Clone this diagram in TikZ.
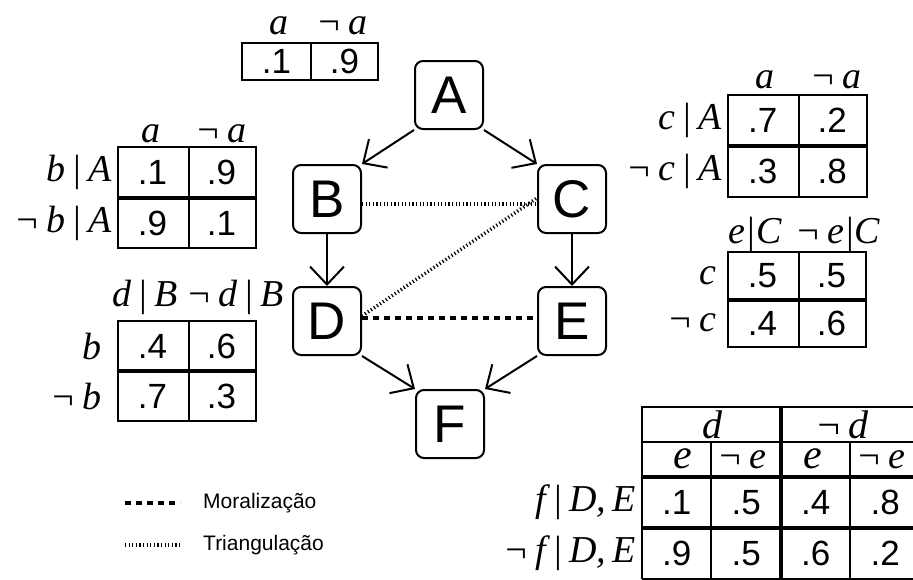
\documentclass[tikz,border=0pt]{standalone}
\usepackage{fontspec}
\setmainfont{Liberation Sans}
\newfontfamily\timesfont{Liberation Serif}
\usetikzlibrary{arrows.meta}

\begin{document}
\begin{tikzpicture}[x=1pt,y=-1pt,
	rv/.style={draw, line width=2pt, rounded corners=8pt, minimum size=68pt, inner sep=0pt, font=\fontsize{53}{60}\selectfont},
	dep/.style={line width=2pt, -{Straight Barb[length=18pt,width=34pt]}},
	moral/.style={line width=4pt, dash pattern=on 6pt off 5pt},
	triang/.style={line width=3.5pt, dash pattern=on 1.2pt off 2.4pt},
	tab/.style={line width=2pt},
	tabthick/.style={line width=4pt},
	num/.style={font=\fontsize{35}{40}\selectfont, inner sep=0pt},
	hdr/.style={font=\fontsize{38}{44}\selectfont\timesfont\itshape, inner sep=0pt, anchor=base},
	rowlbl/.style={font=\fontsize{38}{44}\selectfont\timesfont\itshape, inner sep=0pt, anchor=east},
	legtxt/.style={font=\fontsize{21}{26}\selectfont, anchor=west, inner sep=0pt}]
	\useasboundingbox (0,0) rectangle (913,579);

	% network
	\node[rv] (A) at (449,95) {A};
	\node[rv] (B) at (327,199) {B};
	\node[rv] (C) at (572,199) {C};
	\node[rv] (D) at (327,321) {D};
	\node[rv] (E) at (572,321) {E};
	\node[rv] (F) at (450,424) {F};

	\draw[dep] (A.south west) -- (B.north east);
	\draw[dep] (A.south east) -- (C.north west);
	\draw[dep] (B) -- (D);
	\draw[dep] (C) -- (E);
	\draw[dep] (D.south east) -- (F.north west);
	\draw[dep] (E.south west) -- (F.north east);

	\draw[triang] ([yshift=-5pt]B.east) -- ([yshift=-5pt]C.west);
	\draw[triang] ([yshift=5pt]D.east) -- ([yshift=1pt]C.west);
	\draw[moral] ([yshift=3pt]D.east) -- ([yshift=3pt]E.west);

	% P(A)
	\draw[tab] (242,43) rectangle (378,80);
	\draw[tab] (311,43) -- (311,80);
	\node[num] (pa1) at (276.5,61.5) {.1};
	\node[num] (pa2) at (344.5,61.5) {.9};
	\node[hdr] (ha1) at (279,34) {a};
	\node[hdr] (ha2) at (342,34) {¬\,a};

	% P(B|A)
	\draw[tab] (118,147) rectangle (256,248);
	\draw[tab] (189,147) -- (189,248);
	\draw[tabthick] (118,198) -- (256,198);
	\foreach \v [count=\i] in {.1,.9} \node[num] (pb1\i) at ({118+69*(\i-0.5)},172.5) {\v};
	\foreach \v [count=\i] in {.9,.1} \node[num] (pb2\i) at ({118+69*(\i-0.5)},223) {\v};
	\node[hdr] (hb1) at (151,142) {a};
	\node[hdr] (hb2) at (221,142) {¬\,a};
	\node[rowlbl] (lb1) at (112,172.5) {b\,|\,A};
	\node[rowlbl] (lb2) at (112,223) {¬\,b\,|\,A};

	% P(C|A)
	\draw[tab] (728,95) rectangle (867,197);
	\draw[tab] (799,95) -- (799,197);
	\draw[tabthick] (728,146) -- (867,146);
	\foreach \v [count=\i] in {.7,.2} \node[num] (pc1\i) at ({728+69.5*(\i-0.5)},120.5) {\v};
	\foreach \v [count=\i] in {.3,.8} \node[num] (pc2\i) at ({728+69.5*(\i-0.5)},171.5) {\v};
	\node[hdr] (hc1) at (765,88) {a};
	\node[hdr] (hc2) at (836,88) {¬\,a};
	\node[rowlbl] (lc1) at (722,120.5) {c\,|\,A};
	\node[rowlbl] (lc2) at (722,171.5) {¬\,c\,|\,A};

	% P(D|B)
	\draw[tab] (118,321) rectangle (256,421);
	\draw[tab] (189,321) -- (189,421);
	\draw[tabthick] (118,371) -- (256,371);
	\foreach \v [count=\i] in {.4,.6} \node[num] (pd1\i) at ({118+69*(\i-0.5)},346) {\v};
	\foreach \v [count=\i] in {.7,.3} \node[num] (pd2\i) at ({118+69*(\i-0.5)},396) {\v};
	\node[hdr] (hd1) at (145,306) {d\,|\,B};
	\node[hdr] (hd2) at (235,306) {¬\,d\,|\,B};
	\node[rowlbl] (ld1) at (102,346) {b};
	\node[rowlbl] (ld2) at (102,396) {¬\,b};

	% P(E|C)
	\draw[tab] (728,252) rectangle (866,347);
	\draw[tab] (799,252) -- (799,347);
	\draw[tabthick] (728,299.5) -- (866,299.5);
	\foreach \v [count=\i] in {.5,.5} \node[num] (pe1\i) at ({728+69*(\i-0.5)},276) {\v};
	\foreach \v [count=\i] in {.4,.6} \node[num] (pe2\i) at ({728+69*(\i-0.5)},323) {\v};
	\node[hdr] (he1) at (755,243) {e|C};
	\node[hdr] (he2) at (838,243) {¬\,e|C};
	\node[rowlbl] (le1) at (717,276) {c};
	\node[rowlbl] (le2) at (717,323) {¬\,c};

	% P(F|D,E)
	\draw[tab] (642,579) -- (642,407) -- (920,407);
	\draw[tab] (642,442) -- (920,442);
	\draw[tab] (711,442) -- (711,579);
	\draw[tab] (850,442) -- (850,579);
	\draw[tab] (642,579) -- (920,579);
	\draw[tabthick] (781,407) -- (781,579);
	\draw[tabthick] (642,477) -- (920,477);
	\draw[tabthick] (642,528) -- (920,528);
	\foreach \v [count=\i] in {.1,.5,.4,.8} \node[num] (pf1\i) at ({642+69.5*(\i-0.5)},502.5) {\v};
	\foreach \v [count=\i] in {.9,.5,.6,.2} \node[num] (pf2\i) at ({642+69.5*(\i-0.5)},553.5) {\v};
	\node[hdr, font=\fontsize{40}{44}\selectfont\timesfont\itshape] (hf1) at (712,438) {d};
	\node[hdr, font=\fontsize{40}{44}\selectfont\timesfont\itshape] (hf2) at (842,438) {¬\,d};
	\node[hdr, font=\fontsize{42}{46}\selectfont\timesfont\itshape] (hf3) at (683,468) {e};
	\node[hdr] (hf4) at (742,468) {¬\,e};
	\node[hdr, font=\fontsize{42}{46}\selectfont\timesfont\itshape] (hf5) at (813,468) {e};
	\node[hdr] (hf6) at (881,468) {¬\,e};
	\node[rowlbl] (lf1) at (636,502.5) {f\,|\,D,\,E};
	\node[rowlbl] (lf2) at (636,553.5) {¬\,f\,|\,D,\,E};

	% legend
	\coordinate (m1) at (125,503);
	\coordinate (m2) at (180,503);
	\coordinate (t1) at (125,545);
	\coordinate (t2) at (180,545);
	\draw[moral] (m1) -- (m2);
	\draw[triang] (t1) -- (t2);
	\node[legtxt] (lm) at (203,503) {Moralização};
	\node[legtxt] (lt) at (203,545) {Triangulação};
\end{tikzpicture}
\end{document}
